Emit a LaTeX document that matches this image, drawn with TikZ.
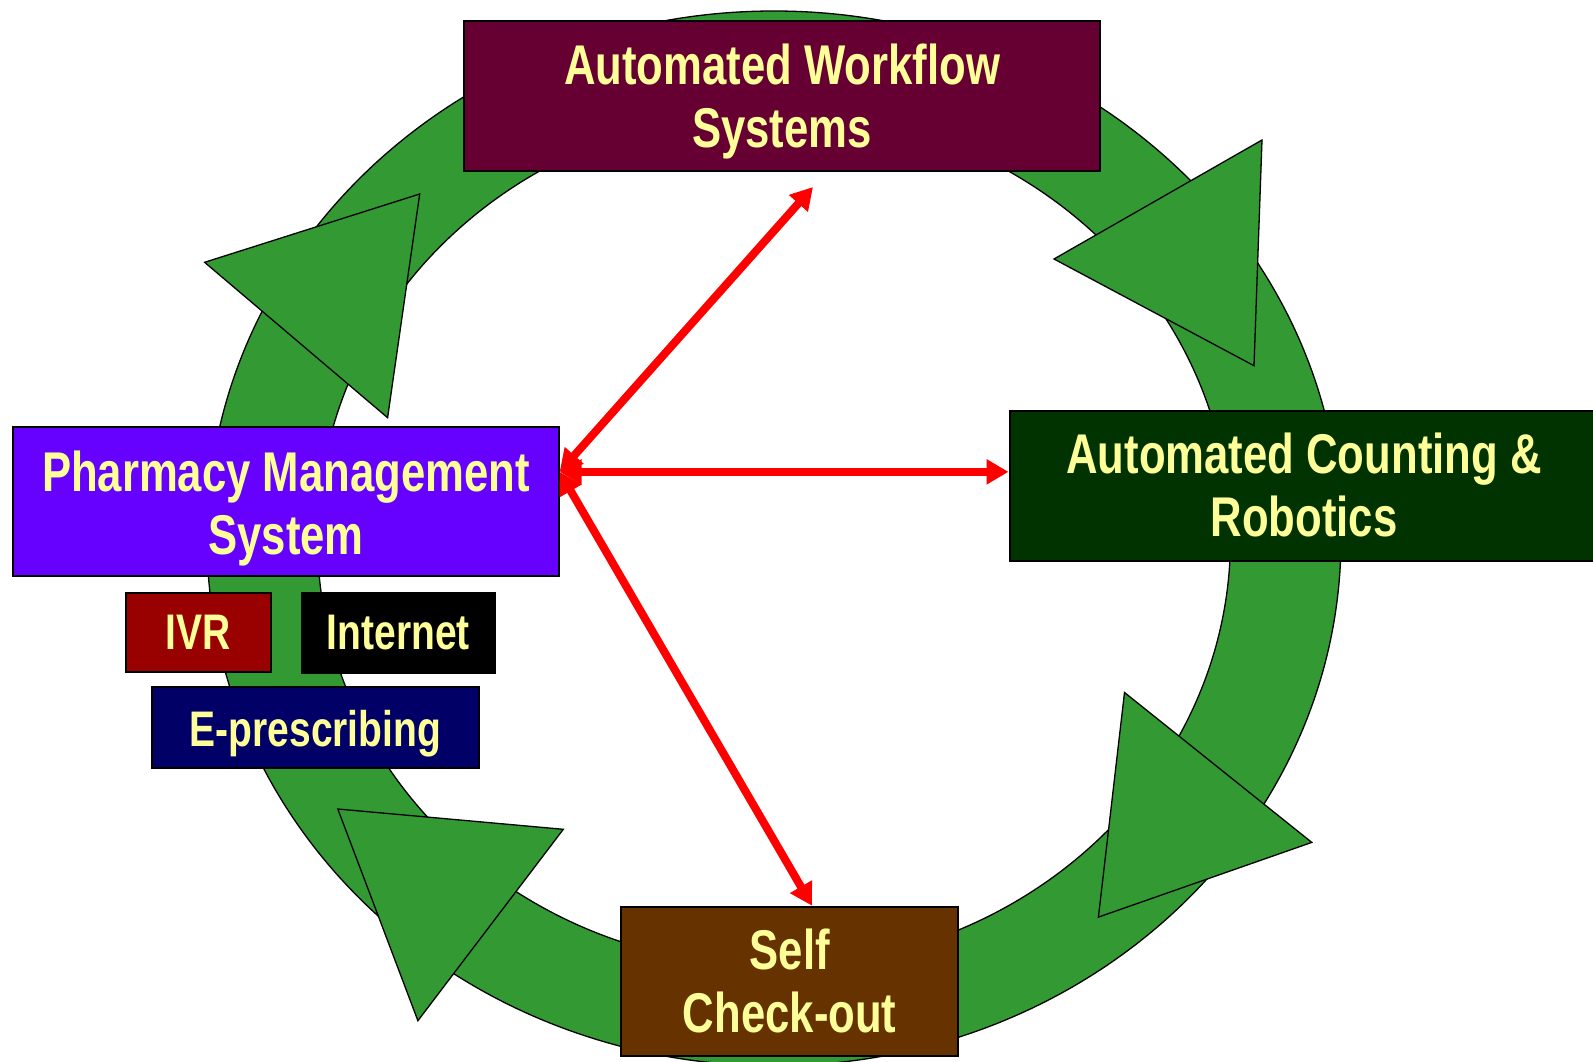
\documentclass[tikz,border=0pt]{standalone}
\usepackage{fontspec}
\newfontfamily\boxfont{Liberation Sans}[FakeStretch=0.78]
\usetikzlibrary{arrows.meta}

\definecolor{ringgreen}{HTML}{339933}
\definecolor{labeltext}{HTML}{FFFF99}
\definecolor{workflowfill}{HTML}{660033}
\definecolor{pmsfill}{HTML}{6600FF}
\definecolor{countfill}{HTML}{003300}
\definecolor{checkfill}{HTML}{663300}
\definecolor{ivrfill}{HTML}{990000}
\definecolor{netfill}{HTML}{000000}
\definecolor{eprfill}{HTML}{000066}

\tikzset{
  box/.style={draw=black, line width=2pt, inner sep=0pt},
  bigtext/.style={text=labeltext, inner sep=0pt, align=center,
    font=\boxfont\bfseries\fontsize{56}{63}\selectfont},
  smalltext/.style={text=labeltext, inner sep=0pt, align=center,
    font=\boxfont\bfseries\fontsize{50}{56}\selectfont},
  band/.style={fill=ringgreen, draw=black, line width=1.3pt, even odd rule},
  headtri/.style={fill=ringgreen, draw=black, line width=1.3pt, line join=miter},
  link/.style={draw=red, line width=8pt,
    {Triangle[length=22pt,width=24pt]}-{Triangle[length=22pt,width=24pt]}},
}

\begin{document}
\begin{tikzpicture}[x=1pt, y=-1pt]
  \useasboundingbox (0,0) rectangle (1593,1062);
  \fill[white] (0,0) rectangle (1593,1062);

  % the green cycle band
  \coordinate (rc) at (774,538.4);
  \draw[band] (rc) ellipse [x radius=567pt, y radius=527.4pt]
              (rc) ellipse [x radius=456.5pt, y radius=428pt];

  % arrowheads on the band, all turning clockwise
  \draw[headtri] (204.6,262.3) -- (419.7,194) -- (387.6,417.7) -- cycle;
  \draw[headtri] (1054,259) -- (1262,140) -- (1254,365.7) -- cycle;
  \draw[headtri] (1124.5,692.5) -- (1311.8,842.4) -- (1098.4,917.1) -- cycle;
  \draw[headtri] (563.3,829.3) -- (417.9,1020.7) -- (337.8,809) -- cycle;

  % main boxes
  \node[box, fill=workflowfill, minimum width=636pt, minimum height=149.5pt] (aw) at (782,96.25) {};
  \node[bigtext] (awtext) at ([yshift=-5pt]aw.center) {Automated Workflow\\Systems};

  \node[box, fill=pmsfill, minimum width=545.3pt, minimum height=149.3pt] (pms) at (286,501.35) {};
  \node[bigtext] (pmstext) at ([yshift=-7pt]pms.center) {Pharmacy Management\\System};

  \node[box, fill=countfill, minimum width=589pt, minimum height=150pt] (acr) at (1304,485.5) {};
  \node[bigtext] (acrtext) at ([yshift=1pt]acr.center) {Automated Counting \&\\Robotics};

  \node[box, fill=checkfill, minimum width=336.6pt, minimum height=149.3pt] (sc) at (789.7,981.35) {};
  \node[bigtext] (sctext) at (sc.center) {Self\\Check-out};

  % access channels under the management system
  \node[box, fill=ivrfill, minimum width=145pt, minimum height=79.6pt] (ivr) at (198,632.5) {};
  \node[smalltext] (ivrtext) at (ivr.center) {IVR};

  \node[box, fill=netfill, minimum width=193.2pt, minimum height=80pt] (net) at (398.2,632.7) {};
  \node[smalltext] (nettext) at (net.center) {Internet};

  \node[box, fill=eprfill, minimum width=327pt, minimum height=81pt] (epr) at (315.35,727.8) {};
  \node[smalltext] (eprtext) at ([yshift=-5.5pt]epr.center) {E-prescribing};

  % links from the management system
  \coordinate (hub) at ([yshift=29.5pt]pms.east);
  \coordinate (awend) at (813,187);
  \coordinate (scx) at (812,0);
  \coordinate (acrend) at (acr.west |- hub);
  \coordinate (scend) at (scx |- sc.north);
  \draw[link] (hub) -- (awend);
  \draw[link] (hub) -- (acrend);
  \draw[link] (hub) -- (scend);
\end{tikzpicture}
\end{document}
